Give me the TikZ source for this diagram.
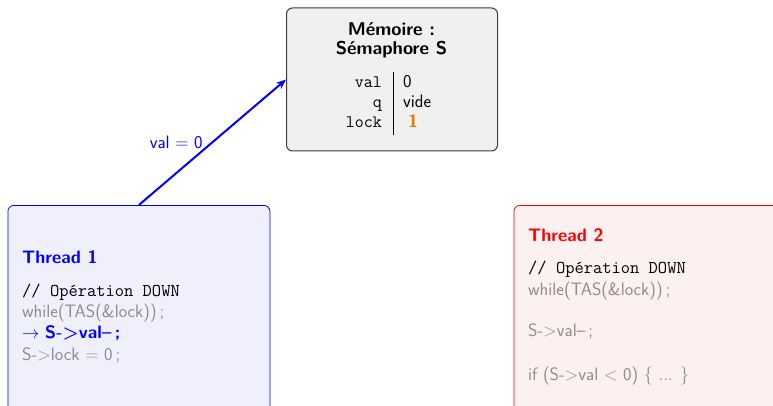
\documentclass[tikz,border=0pt]{standalone}
\usetikzlibrary{arrows.meta}
\definecolor{memfill}{RGB}{240,240,240}
\definecolor{memdraw}{RGB}{60,60,60}
\definecolor{t1fill}{RGB}{240,240,252}
\definecolor{t2fill}{RGB}{253,240,240}
\definecolor{dimtext}{RGB}{140,140,140}
\definecolor{lockorange}{RGB}{230,120,0}
\begin{document}
\begin{tikzpicture}[x=1pt,y=-1pt,font=\sffamily\fontsize{18}{20}\selectfont]
\tikzset{
  membox/.style={draw=memdraw,fill=memfill,rounded corners=6pt,line width=1pt,inner sep=0pt,anchor=north west},
  tonebox/.style={draw=blue,fill=t1fill,rounded corners=6pt,line width=0.8pt,inner sep=0pt,anchor=north west},
  ttwobox/.style={draw=red,fill=t2fill,rounded corners=6pt,line width=0.8pt,inner sep=0pt,anchor=north west},
  txt/.style={anchor=base west,inner sep=0pt},
  rtxt/.style={anchor=base east,inner sep=0pt,font=\ttfamily\fontsize{17.5}{19}\selectfont},
  code/.style={txt,font=\ttfamily\fontsize{18}{20}\selectfont},
  dim/.style={txt,text=dimtext},
  ttl/.style={anchor=base,inner sep=0pt,font=\sffamily\bfseries\fontsize{18.5}{20}\selectfont},
}
\useasboundingbox (0,0) rectangle (773,406);
% boxes
\node[membox,minimum width=211pt,minimum height=143pt] (mem) at (286,7.5) {};
\node[tonebox,minimum width=262pt,minimum height=210pt] (t1) at (7.5,205) {};
\node[ttwobox,minimum width=270pt,minimum height=210pt] (t2) at (513.5,205) {};
% memory content
\node[ttl] (mt1) at (391.5,36) {Mémoire :};
\node[ttl] (mt2) at (391.5,55) {Sémaphore S};
\node[rtxt] (kval) at (382,88) {val};
\node[rtxt] (kq) at (382,107.5) {q};
\node[rtxt] (klock) at (382,128) {lock};
\coordinate (rtop) at (393,72);
\coordinate (rbot) at (393,135);
\draw[line width=0.7pt] (rtop) -- (rbot);
\node[txt] (vval) at (403,88) {0};
\node[txt] (vq) at (403,107.5) {vide};
\node[txt,font=\sffamily\bfseries\fontsize{18}{20}\selectfont,text=lockorange] (vlock) at (408,128) {1};
% thread 1
\node[txt,font=\sffamily\bfseries\fontsize{18}{20}\selectfont,text=blue] (t1title) at (22,263.3) {Thread 1};
\node[code] (t1c) at (22,296) {// Opération DOWN};
\node[dim] (t1w) at (22,317.5) {while(TAS(\&lock))\,;};
\node[txt,text=blue] (t1v) at (22,338.3) {$\rightarrow$ \textbf{S->val--\,;}};
\node[dim] (t1l) at (22,360.7) {S->lock = 0\,;};
% thread 2
\node[txt,font=\sffamily\bfseries\fontsize{18}{20}\selectfont,text=red] (t2title) at (528,241.7) {Thread 2};
\node[code] (t2c) at (528,273.3) {// Opération DOWN};
\node[dim] (t2w) at (528,295) {while(TAS(\&lock))\,;};
\node[dim] (t2v) at (528,336.7) {S->val--\,;};
\node[dim] (t2i) at (528,380) {if (S->val < 0) \{ ... \}};
% arrow
\draw[blue,line width=2pt,-{Stealth[length=10pt,width=8pt]}] (t1.north) -- node[pos=0.45,anchor=base east,inner sep=1.5pt,text=blue] (lab) {val = 0} (mem.west);
\end{tikzpicture}
\end{document}
